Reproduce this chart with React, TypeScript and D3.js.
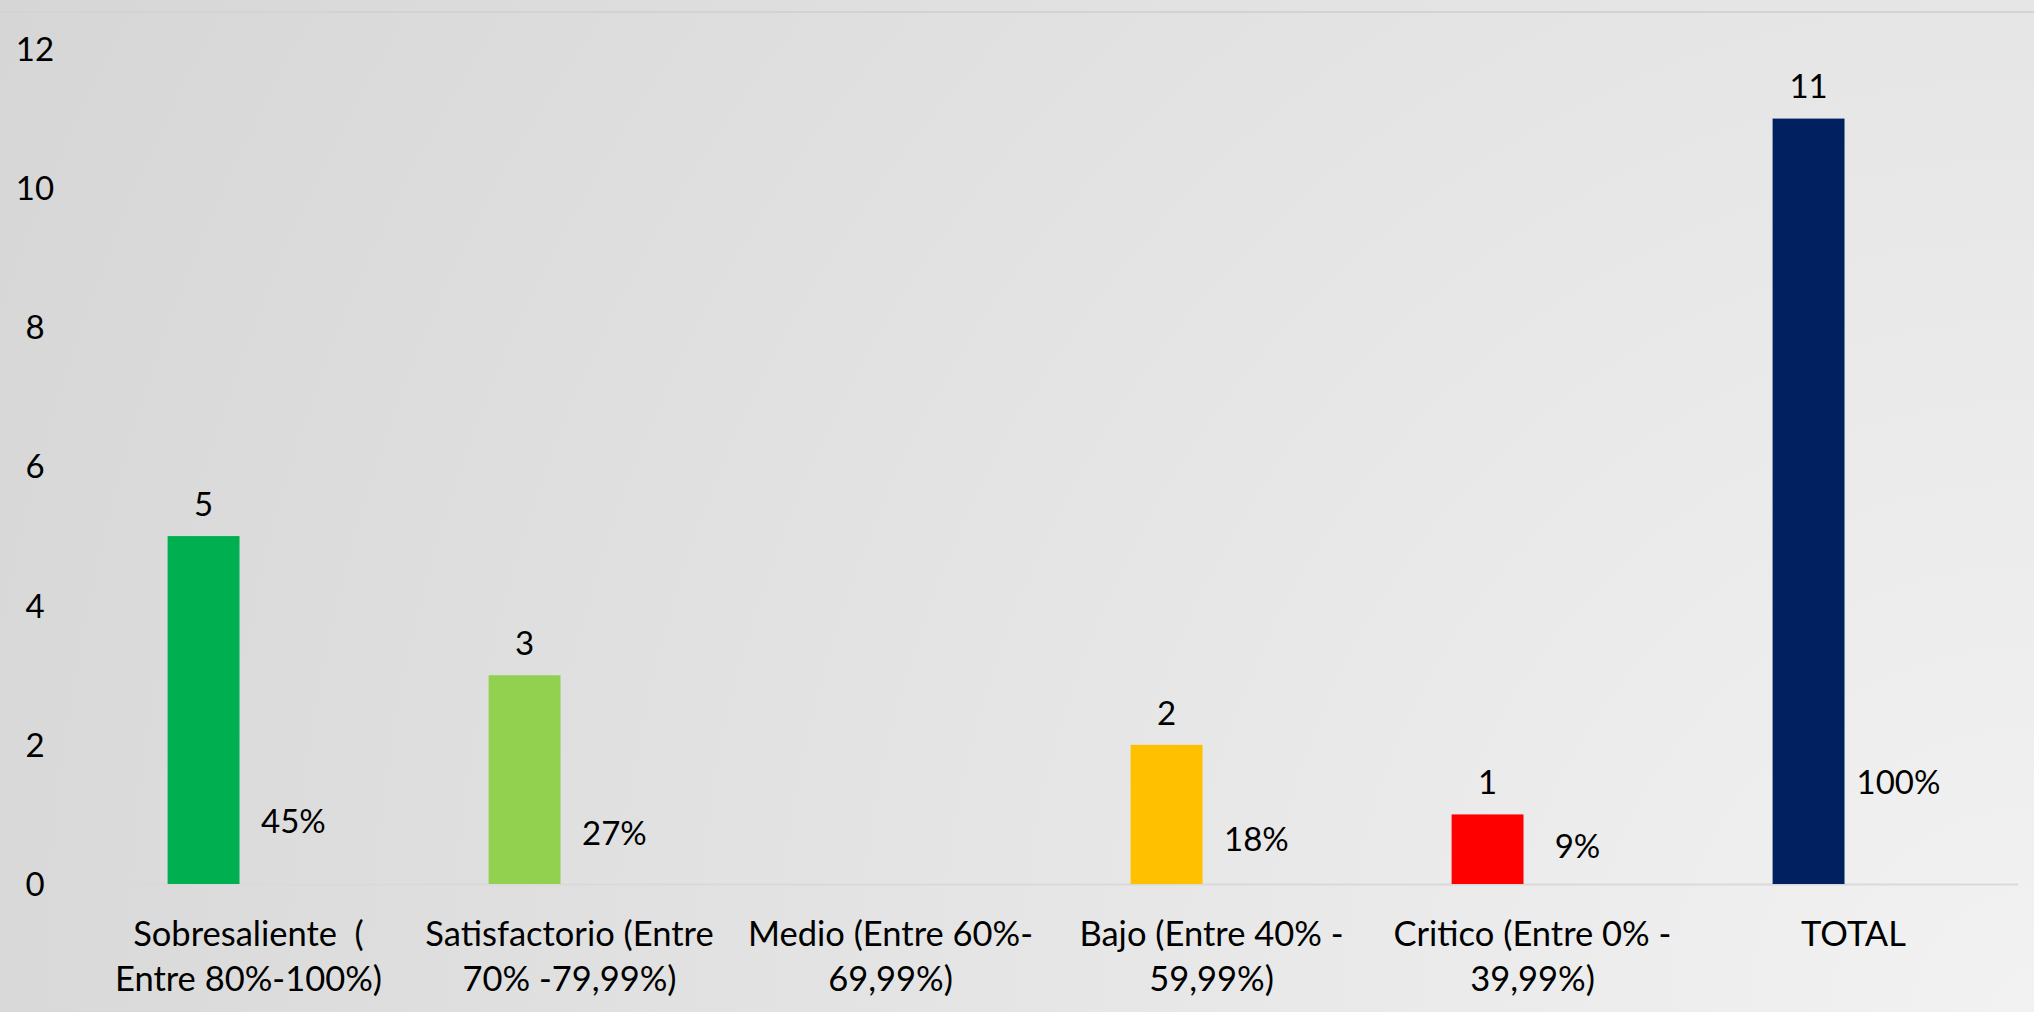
import React from "react";
import * as d3 from "d3";

const categories = [
  ["Sobresaliente  (", "Entre 80%-100%)"],
  ["Satisfactorio (Entre", "70% -79,99%)"],
  ["Medio (Entre 60%-", "69,99%)"],
  ["Bajo (Entre 40% -", "59,99%)"],
  ["Critico (Entre 0% -", "39,99%)"],
  ["TOTAL"],
];
const counts = [5, 3, 0, 2, 1, 11];
const shares = [0.45, 0.27, 0, 0.18, 0.09, 1.0];
const colors = ["#00b050", "#92d050", "#a6a6a6", "#ffc000", "#ff0000", "#002060"];
const yTicks = [0, 2, 4, 6, 8, 10, 12];

export default function App() {
  const width = 2034;
  const height = 1012;
  const font = "Lato, 'Open Sans', sans-serif";
  const fs = 33;

  const ids = categories.map((_, i) => i);
  // outer scale: one band per category
  const x = d3
    .scaleBand<number>()
    .domain(ids)
    .range([88, 2014])
    .paddingInner(0.44)
    .paddingOuter(0.22);
  // inner scale: count bar and (invisible) share bar
  const inner = d3
    .scaleBand<string>()
    .domain(["count", "share"])
    .range([0, x.bandwidth()])
    .paddingInner(0.2)
    .paddingOuter(0.1);
  const y = d3.scaleLinear().domain([0, 12]).range([884, 49]);

  return (
    <svg
      width={width}
      height={height}
      style={{ position: "absolute", left: 0, top: 0 }}
      fontFamily={font}
    >
      <defs>
        <radialGradient
          id="bg"
          gradientUnits="userSpaceOnUse"
          cx={width}
          cy={height}
          r={2272}
        >
          <stop offset="0" stopColor="#f2f2f2" />
          <stop offset="1" stopColor="#d6d6d6" />
        </radialGradient>
      </defs>
      <rect width={width} height={height} fill="url(#bg)" />
      <line x1={0} x2={width} y1={12} y2={12} stroke="#d3d3d3" strokeWidth={2} />

      {/* y axis labels */}
      {yTicks.map((t) => (
        <text
          key={t}
          x={35}
          y={y(t)}
          dy="0.36em"
          textAnchor="middle"
          fontSize={fs}
          fill="#000"
        >
          {t}
        </text>
      ))}

      {/* baseline */}
      <line x1={88} x2={2018} y1={y(0) + 0.5} y2={y(0) + 0.5} stroke="#d9d9d9" strokeWidth={2} />

      {ids.map((i) => {
        const x0 = x(i)!;
        const bx = x0 + inner("count")!;
        const sx = x0 + inner("share")!;
        const bw = inner.bandwidth();
        return (
          <g key={i}>
            {counts[i] > 0 && (
              <>
                <rect
                  x={bx}
                  y={y(counts[i])}
                  width={bw}
                  height={y(0) - y(counts[i])}
                  fill={colors[i]}
                />
                <text
                  x={bx + bw / 2}
                  y={y(counts[i]) - 32}
                  dy="0.36em"
                  textAnchor="middle"
                  fontSize={fs}
                >
                  {counts[i]}
                </text>
              </>
            )}
            {shares[i] > 0 && (
              <text
                x={sx + bw / 2}
                y={y(shares[i]) - 32}
                dy="0.36em"
                textAnchor="middle"
                fontSize={fs}
              >
                {d3.format(".0%")(shares[i])}
              </text>
            )}
            {categories[i].map((line, k) => (
              <text
                key={k}
                x={x0 + x.bandwidth() / 2}
                y={934 + k * 45}
                dy="0.36em"
                textAnchor="middle"
                fontSize={34.5}
                style={{ whiteSpace: "pre" }}
              >
                {line}
              </text>
            ))}
          </g>
        );
      })}
    </svg>
  );
}
